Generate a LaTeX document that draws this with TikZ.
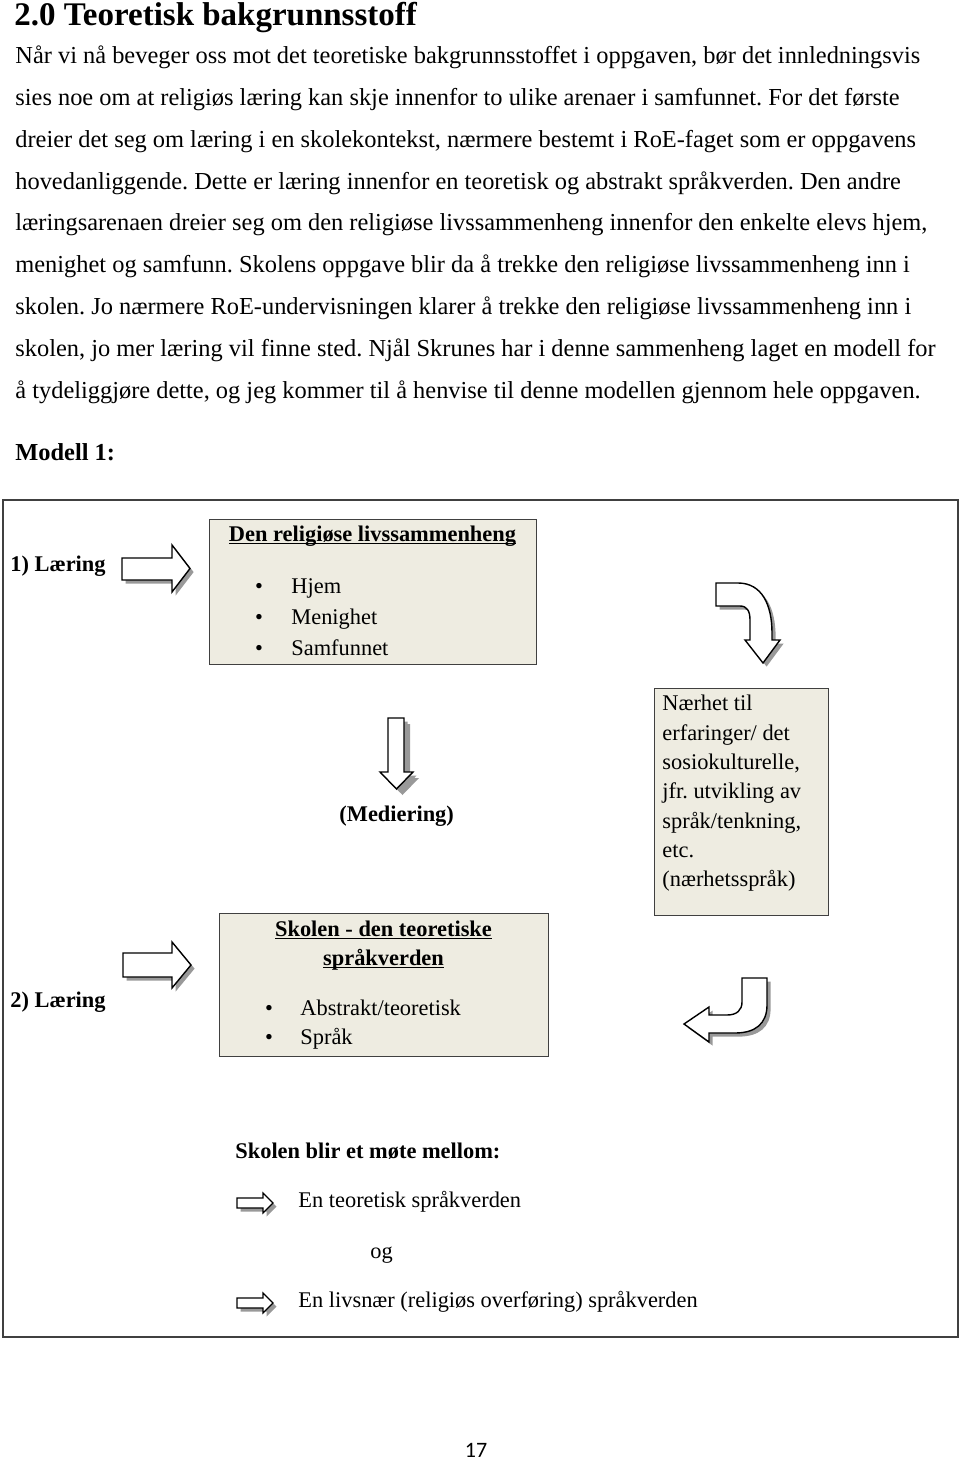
\documentclass[tikz,border=0pt]{standalone}
\usepackage{fontspec}
\setmainfont{Liberation Serif}
\newfontfamily\pagenofont{Carlito}
\usetikzlibrary{shadows}
\definecolor{boxfill}{HTML}{EEECE1}
\definecolor{boxline}{HTML}{404040}
\newcommand{\undl}[1]{\begingroup\setbox0=\hbox{#1}\rlap{\rule[-1.5pt]{\wd0}{0.65pt}}\box0\endgroup}
\frenchspacing

\begin{document}
\begin{tikzpicture}[x=0.5pt, y=-0.5pt,
    para/.style={anchor=base west, inner sep=0pt, font=\fontsize{12.2}{14}\selectfont},
    txt/.style={anchor=base west, inner sep=0pt, font=\fontsize{11.2}{13}\selectfont},
    btxt/.style={txt, font=\fontsize{11.2}{13}\selectfont\bfseries},
    ctitle/.style={btxt, anchor=base},
    panel/.style={draw=boxline, line width=0.5pt, fill=boxfill, inner sep=0pt, outer sep=0pt},
    frame/.style={draw=boxline, line width=0.8pt, inner sep=0pt, outer sep=0pt},
    blockarrow/.style={draw=black, line width=0.7pt, fill=white, line join=miter,
      drop shadow={shadow xshift=1.8pt, shadow yshift=-1.8pt, fill=black!40, opacity=1}}]
  \useasboundingbox (0,0) rectangle (960,1460);

  \node[anchor=base west, inner sep=0pt, font=\fontsize{16.5}{19}\selectfont\bfseries] (tittel) at (14,26) {2.0 Teoretisk bakgrunnsstoff};
  \node[para] (l1) at (15,64) {Når vi nå beveger oss mot det teoretiske bakgrunnsstoffet i oppgaven, bør det innledningsvis};
  \node[para] (l2) at (15,105.8) {sies noe om at religiøs læring kan skje innenfor to ulike arenaer i samfunnet. For det første};
  \node[para] (l3) at (15,147.5) {dreier det seg om læring i en skolekontekst, nærmere bestemt i RoE-faget som er oppgavens};
  \node[para] (l4) at (15,189.3) {hovedanliggende. Dette er læring innenfor en teoretisk og abstrakt språkverden. Den andre};
  \node[para] (l5) at (15,231) {læringsarenaen dreier seg om den religiøse livssammenheng innenfor den enkelte elevs hjem,};
  \node[para] (l6) at (15,272.8) {menighet og samfunn. Skolens oppgave blir da å trekke den religiøse livssammenheng inn i};
  \node[para] (l7) at (15,314.5) {skolen. Jo nærmere RoE-undervisningen klarer å trekke den religiøse livssammenheng inn i};
  \node[para] (l8) at (15,356.3) {skolen, jo mer læring vil finne sted. Njål Skrunes har i denne sammenheng laget en modell for};
  \node[para] (l9) at (15,398) {å tydeliggjøre dette, og jeg kommer til å henvise til denne modellen gjennom hele oppgaven.};
  \node[para, font=\fontsize{12.2}{14}\selectfont\bfseries] (modell) at (15,460) {Modell 1:};

  % model frame and boxes
  \node[frame, minimum width=477.5pt, minimum height=418.5pt] (ramme) at (480.5,918.5) {};
  \node[panel, minimum width=163.5pt, minimum height=72.5pt] (livs) at (372.5,591.5) {};
  \node[panel, minimum width=164.5pt, minimum height=71.5pt] (skole) at (383.5,984.5) {};
  \node[panel, minimum width=87pt, minimum height=113.5pt] (naer) at (741,801.5) {};

  \node[btxt] (laer1) at (10,571) {1) Læring};
  \node[btxt] (laer2) at (10,1007) {2) Læring};

  \node[ctitle] (livstit) at (372.5,541) {\undl{Den religiøse livssammenheng}};
  \node[txt, anchor=base] (b1) at (259,593) {\textbullet};
  \node[txt] (hjem) at (291,593) {Hjem};
  \node[txt, anchor=base] (b2) at (259,624) {\textbullet};
  \node[txt] (menighet) at (291,624) {Menighet};
  \node[txt, anchor=base] (b3) at (259,655) {\textbullet};
  \node[txt] (samfunn) at (291,655) {Samfunnet};

  \node[ctitle] (skoletit1) at (383.5,936) {\undl{Skolen - den teoretiske}};
  \node[ctitle] (skoletit2) at (383.5,965) {\undl{språkverden}};
  \node[txt, anchor=base] (b4) at (269,1015) {\textbullet};
  \node[txt] (abstrakt) at (300,1015) {Abstrakt/teoretisk};
  \node[txt, anchor=base] (b5) at (269,1044) {\textbullet};
  \node[txt] (spraak) at (300,1044) {Språk};

  \node[txt] (n1) at (662,710.7) {Nærhet til};
  \node[txt] (n2) at (662,740) {erfaringer/ det};
  \node[txt] (n3) at (662,769.3) {sosiokulturelle,};
  \node[txt] (n4) at (662,798.7) {jfr. utvikling av};
  \node[txt] (n5) at (662,828) {språk/tenkning,};
  \node[txt] (n6) at (662,857.3) {etc.};
  \node[txt] (n7) at (662,886.7) {(nærhetsspråk)};

  \node[btxt] (med) at (339,821) {(Mediering)};

  % block arrows
  \draw[blockarrow] (122,558) -- (172,558) -- (172,545) -- (190,568.5) -- (172,592) -- (172,580) -- (122,580) -- cycle;
  \draw[blockarrow] (123,953) -- (172,953) -- (172,942) -- (191,965) -- (172,988) -- (172,977) -- (123,977) -- cycle;
  \draw[blockarrow, drop shadow={shadow xshift=3pt, shadow yshift=-3pt, fill=black!40, opacity=1}]
    (388,718) -- (404,718) -- (404,772) -- (413,772) -- (396.5,789) -- (380,772) -- (388,772) -- cycle;
  \draw[blockarrow] (716,583) -- (738,583) .. controls (762,583) and (772,605) .. (772,633)
    -- (772,640) -- (780,640) -- (763,663) -- (745,640) -- (750,640) -- (750,620)
    .. controls (750,611) and (747,606) .. (740,606) -- (716,606) -- cycle;
  \draw[blockarrow] (767,978) -- (767,1005) .. controls (767,1024) and (755,1033) .. (735,1033)
    -- (709,1033) -- (709,1042) -- (684,1024) -- (709,1007) -- (709,1015) -- (727,1015)
    .. controls (737,1015) and (742,1010) .. (742,1002) -- (742,978) -- cycle;

  \node[btxt] (moete) at (235,1158) {Skolen blir et møte mellom:};
  \draw[blockarrow, line width=0.6pt] (237,1198) -- (263,1198) -- (263,1193) -- (273,1203) -- (263,1213) -- (263,1208) -- (237,1208) -- cycle;
  \node[txt] (teori) at (298,1207) {En teoretisk språkverden};
  \node[txt] (og) at (370,1258) {og};
  \draw[blockarrow, line width=0.6pt] (237,1298) -- (263,1298) -- (263,1293) -- (273,1303) -- (263,1313) -- (263,1308) -- (237,1308) -- cycle;
  \node[txt] (livsnaer) at (298,1307) {En livsnær (religiøs overføring) språkverden};

  \node[anchor=base, inner sep=0pt, font=\pagenofont\fontsize{11}{13}\selectfont] (side) at (476,1457) {17};
\end{tikzpicture}
\end{document}
